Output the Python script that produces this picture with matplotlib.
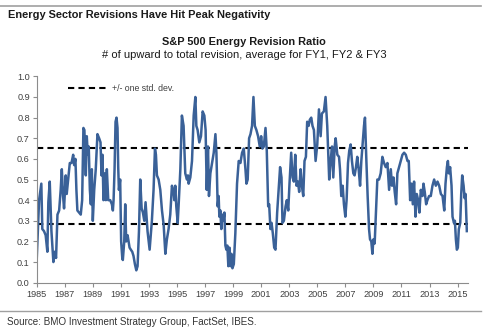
# =========================
# IMPORTS
# =========================

import matplotlib
matplotlib.use("Agg")
import matplotlib.pyplot as plt

# =========================
# DATA
# =========================

years = [
    1985.00, 1985.17, 1985.29, 1985.33, 1985.40, 1985.52, 1985.64, 1985.76, 1985.83, 1985.93,
    1986.05, 1986.19, 1986.29, 1986.38, 1986.48, 1986.60, 1986.71, 1986.79, 1986.88, 1986.95,
    1987.07, 1987.14, 1987.24, 1987.36, 1987.48, 1987.60, 1987.67, 1987.76, 1987.83, 1987.90,
    1988.02, 1988.14, 1988.24, 1988.33, 1988.40, 1988.50, 1988.57, 1988.64, 1988.71, 1988.79,
    1988.86, 1988.93, 1989.00, 1989.10, 1989.21, 1989.33, 1989.45, 1989.55, 1989.62, 1989.69,
    1989.76, 1989.86, 1989.93, 1990.00, 1990.10, 1990.24, 1990.36, 1990.43, 1990.48, 1990.55,
    1990.62, 1990.69, 1990.76, 1990.81, 1990.86, 1990.95, 1991.02, 1991.10, 1991.14, 1991.24,
    1991.31, 1991.38, 1991.48, 1991.55, 1991.62, 1991.71, 1991.81, 1991.90, 1992.00, 1992.10,
    1992.19, 1992.29, 1992.38, 1992.48, 1992.57, 1992.67, 1992.76, 1992.90, 1993.05, 1993.21,
    1993.33, 1993.43, 1993.50, 1993.57, 1993.69, 1993.81, 1993.93, 1994.05, 1994.17, 1994.28,
    1994.40, 1994.52, 1994.64, 1994.76, 1994.81, 1994.88, 1994.95, 1995.05, 1995.12, 1995.24,
    1995.35, 1995.47, 1995.59, 1995.71, 1995.78, 1995.83, 1995.95, 1996.07, 1996.19, 1996.31,
    1996.38, 1996.47, 1996.59, 1996.71, 1996.83, 1996.95, 1997.04, 1997.12, 1997.21, 1997.28,
    1997.38, 1997.50, 1997.62, 1997.74, 1997.81, 1997.90, 1997.97, 1998.02, 1998.09, 1998.16,
    1998.24, 1998.31, 1998.38, 1998.45, 1998.52, 1998.59, 1998.66, 1998.74, 1998.81, 1998.88,
    1998.95, 1999.05, 1999.16, 1999.28, 1999.40, 1999.52, 1999.64, 1999.76, 1999.88, 1999.95,
    2000.04, 2000.14, 2000.24, 2000.35, 2000.45, 2000.55, 2000.66, 2000.78, 2000.90, 2001.00,
    2001.09, 2001.19, 2001.31, 2001.40, 2001.50, 2001.57, 2001.66, 2001.74, 2001.83, 2001.93,
    2002.02, 2002.14, 2002.26, 2002.35, 2002.45, 2002.52, 2002.62, 2002.74, 2002.83, 2002.93,
    2003.02, 2003.14, 2003.24, 2003.33, 2003.43, 2003.52, 2003.62, 2003.71, 2003.81, 2003.90,
    2004.00, 2004.09, 2004.19, 2004.28, 2004.38, 2004.47, 2004.57, 2004.66, 2004.76, 2004.88,
    2005.00, 2005.12, 2005.24, 2005.33, 2005.47, 2005.59, 2005.71, 2005.85, 2005.95, 2006.05,
    2006.14, 2006.24, 2006.31, 2006.43, 2006.55, 2006.62, 2006.71, 2006.81, 2006.90, 2007.00,
    2007.09, 2007.19, 2007.28, 2007.38, 2007.47, 2007.57, 2007.66, 2007.76, 2007.85, 2007.95,
    2008.05, 2008.14, 2008.24, 2008.33, 2008.40, 2008.50, 2008.59, 2008.69, 2008.76, 2008.85,
    2008.93, 2009.00, 2009.09, 2009.16, 2009.28, 2009.40, 2009.52, 2009.64, 2009.76, 2009.88,
    2010.00, 2010.12, 2010.24, 2010.33, 2010.43, 2010.52, 2010.62, 2010.71, 2010.83, 2010.95,
    2011.07, 2011.19, 2011.31, 2011.43, 2011.52, 2011.62, 2011.71, 2011.81, 2011.90, 2012.00,
    2012.09, 2012.19, 2012.28, 2012.38, 2012.50, 2012.57, 2012.66, 2012.76, 2012.85, 2012.97,
    2013.09, 2013.21, 2013.33, 2013.45, 2013.57, 2013.69, 2013.81, 2013.93, 2014.05, 2014.14,
    2014.24, 2014.31, 2014.38, 2014.47, 2014.57, 2014.64, 2014.74, 2014.81, 2014.88, 2014.95,
    2015.02, 2015.09, 2015.19, 2015.26, 2015.33, 2015.43, 2015.50, 2015.57, 2015.66,
]

ratio = [
    0.11, 0.40, 0.46, 0.48, 0.26, 0.25, 0.23, 0.15, 0.39, 0.49,
    0.25, 0.10, 0.15, 0.12, 0.33, 0.35, 0.45, 0.55, 0.42, 0.36,
    0.52, 0.43, 0.50, 0.58, 0.58, 0.62, 0.57, 0.60, 0.45, 0.35,
    0.34, 0.33, 0.40, 0.75, 0.74, 0.52, 0.71, 0.62, 0.66, 0.45,
    0.38, 0.55, 0.30, 0.45, 0.55, 0.72, 0.70, 0.68, 0.52, 0.62,
    0.40, 0.53, 0.40, 0.55, 0.40, 0.40, 0.38, 0.35, 0.40, 0.55,
    0.78, 0.80, 0.75, 0.56, 0.45, 0.50, 0.20, 0.12, 0.11, 0.20,
    0.38, 0.20, 0.23, 0.20, 0.17, 0.16, 0.15, 0.13, 0.09, 0.06,
    0.08, 0.25, 0.50, 0.36, 0.34, 0.30, 0.39, 0.25, 0.16, 0.30,
    0.45, 0.65, 0.62, 0.52, 0.50, 0.45, 0.35, 0.28, 0.14, 0.21,
    0.26, 0.33, 0.47, 0.44, 0.40, 0.47, 0.37, 0.29, 0.38, 0.55,
    0.81, 0.76, 0.53, 0.50, 0.52, 0.48, 0.51, 0.59, 0.81, 0.90,
    0.76, 0.74, 0.68, 0.71, 0.83, 0.81, 0.74, 0.45, 0.66, 0.42,
    0.53, 0.58, 0.63, 0.72, 0.63, 0.37, 0.42, 0.32, 0.35, 0.26,
    0.33, 0.30, 0.34, 0.18, 0.16, 0.18, 0.08, 0.17, 0.08, 0.14,
    0.07, 0.09, 0.24, 0.48, 0.59, 0.58, 0.63, 0.65, 0.55, 0.48,
    0.50, 0.70, 0.72, 0.76, 0.90, 0.76, 0.74, 0.71, 0.66, 0.71,
    0.65, 0.66, 0.75, 0.64, 0.37, 0.38, 0.26, 0.29, 0.24, 0.17,
    0.16, 0.34, 0.47, 0.56, 0.51, 0.29, 0.30, 0.37, 0.40, 0.35,
    0.48, 0.63, 0.51, 0.49, 0.62, 0.47, 0.49, 0.44, 0.55, 0.47,
    0.42, 0.59, 0.61, 0.78, 0.76, 0.79, 0.80, 0.76, 0.74, 0.59,
    0.67, 0.84, 0.71, 0.82, 0.83, 0.90, 0.76, 0.50, 0.59, 0.66,
    0.51, 0.66, 0.70, 0.62, 0.61, 0.55, 0.42, 0.47, 0.38, 0.32,
    0.40, 0.58, 0.64, 0.67, 0.59, 0.53, 0.52, 0.56, 0.61, 0.55,
    0.47, 0.59, 0.68, 0.76, 0.80, 0.59, 0.42, 0.26, 0.21, 0.20,
    0.14, 0.21, 0.19, 0.30, 0.50, 0.50, 0.53, 0.61, 0.58, 0.56,
    0.58, 0.45, 0.55, 0.47, 0.51, 0.44, 0.38, 0.53, 0.56, 0.59,
    0.62, 0.63, 0.62, 0.59, 0.59, 0.40, 0.48, 0.38, 0.49, 0.32,
    0.43, 0.40, 0.34, 0.45, 0.42, 0.48, 0.44, 0.38, 0.40, 0.42,
    0.42, 0.47, 0.50, 0.47, 0.49, 0.47, 0.43, 0.42, 0.35, 0.48,
    0.56, 0.59, 0.53, 0.56, 0.47, 0.32, 0.29, 0.30, 0.21, 0.16,
    0.17, 0.26, 0.29, 0.43, 0.52, 0.47, 0.41, 0.43, 0.25,
]

std_upper = 0.655
std_lower = 0.285

xticks = list(range(1985, 2016, 2))
yticks = [0.0, 0.1, 0.2, 0.3, 0.4, 0.5, 0.6, 0.7, 0.8, 0.9, 1.0]

# =========================
# FIGURE
# =========================

plt.rcParams["font.family"] = ["Liberation Sans", "DejaVu Sans"]

fig = plt.figure(figsize=(4.88, 3.32), dpi=100)
ax = fig.add_axes([0.0752, 0.1485, 0.884, 0.6215])

line_color = "#3a6198"
axis_color = "#8c8c8c"
text_color = "#404040"

ax.axhline(std_upper, color="black", lw=1.5, ls=(0, (3, 2)), zorder=1)
ax.axhline(std_lower, color="black", lw=1.5, ls=(0, (3, 2)), zorder=1,
           label="+/- one std. dev.")
ax.plot(years, ratio, color=line_color, lw=1.8, zorder=2)

ax.set_xlim(1985, 2015.75)
ax.set_ylim(0, 1.0)
ax.set_xticks(xticks)
ax.set_yticks(yticks)
ax.set_yticklabels([f"{v:.1f}" for v in yticks])

for side in ["top", "right"]:
    ax.spines[side].set_visible(False)
for side in ["left", "bottom"]:
    ax.spines[side].set_color(axis_color)
    ax.spines[side].set_linewidth(0.8)

ax.tick_params(axis="both", colors=axis_color, labelcolor=text_color,
               labelsize=6.6, length=3, width=0.8, direction="out")
ax.tick_params(axis="x", pad=2)
ax.tick_params(axis="y", pad=2)

leg = ax.legend(loc="upper left", bbox_to_anchor=(0.055, 1.0), frameon=False,
                fontsize=6.3, handlelength=4.6, handletextpad=0.4)
for t in leg.get_texts():
    t.set_color(text_color)

# =========================
# TITLES, RULES, SOURCE
# =========================

fig.add_artist(plt.Line2D([0.0, 0.986], [1 - 6 / 332, 1 - 6 / 332],
                          color="#a0a0a0", lw=1.2))
fig.text(8 / 488, 1 - 15 / 332, "Energy Sector Revisions Have Hit Peak Negativity",
         fontsize=7.9, fontweight="bold", color="#1a1a1a", va="center", ha="left")
fig.text(244 / 488, 1 - 42 / 332, "S&P 500 Energy Revision Ratio",
         fontsize=7.9, fontweight="bold", color="#1a1a1a", va="center", ha="center")
fig.text(244 / 488, 1 - 54.5 / 332, "# of upward to total revision, average for FY1, FY2 & FY3",
         fontsize=8.0, color="#1a1a1a", va="center", ha="center")

fig.add_artist(plt.Line2D([0.0, 0.986], [1 - 310.5 / 332, 1 - 310.5 / 332],
                          color="#a0a0a0", lw=1.0))
fig.text(7 / 488, 1 - 322 / 332, "Source: BMO Investment Strategy Group, FactSet, IBES.",
         fontsize=7.1, color="#333333", va="center", ha="left")

fig.savefig("out.png", dpi=100)
